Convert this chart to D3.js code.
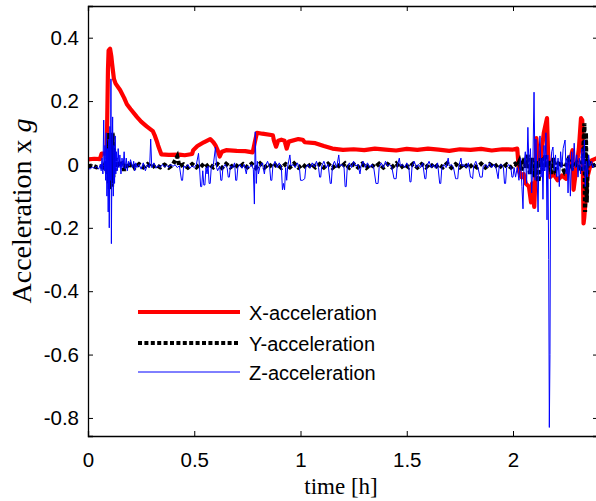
<!DOCTYPE html>
<html>
<head>
<meta charset="utf-8">
<script src="https://cdn.jsdelivr.net/npm/d3@7"></script>
<style>
  html, body { margin: 0; padding: 0; background: #fff; }
  svg { display: block; }
</style>
</head>
<body>
<svg id="chart" width="596" height="501"></svg>
<script>
// ---------------- DATA ----------------
const xTicks = [0, 0.5, 1, 1.5, 2];
const xTickLabels = ["0", "0.5", "1", "1.5", "2"];
const yTicks = [-0.8, -0.6, -0.4, -0.2, 0, 0.2, 0.4];
const yTickLabels = ["-0.8", "-0.6", "-0.4", "-0.2", "0", "0.2", "0.4"];
const seriesNames = ["X-acceleration", "Y-acceleration", "Z-acceleration"];

// [time (h), acceleration (g)]
const xAccel = [
  [0.000,0.016],[0.030,0.018],[0.056,0.017],[0.064,0.034],[0.088,0.035],[0.094,0.30],
  [0.097,0.36],[0.104,0.365],[0.110,0.34],[0.113,0.32],[0.122,0.27],[0.130,0.255],
  [0.151,0.235],[0.170,0.21],[0.183,0.19],[0.200,0.175],[0.230,0.15],[0.250,0.135],
  [0.276,0.12],[0.305,0.105],[0.315,0.09],[0.323,0.075],[0.330,0.06],[0.338,0.045],
  [0.345,0.032],[0.380,0.030],[0.430,0.031],[0.455,0.029],[0.490,0.033],[0.495,0.045],
  [0.515,0.058],[0.545,0.070],[0.575,0.080],[0.590,0.070],[0.600,0.060],[0.610,0.045],
  [0.620,0.025],[0.630,0.040],[0.650,0.045],[0.700,0.043],[0.740,0.042],[0.775,0.038],
  [0.785,0.070],[0.795,0.100],[0.820,0.097],[0.870,0.092],[0.875,0.075],[0.885,0.056],
  [0.895,0.075],[0.910,0.078],[0.925,0.075],[0.935,0.050],[0.945,0.072],[0.990,0.080],
  [1.010,0.078],[1.020,0.070],[1.070,0.067],[1.110,0.058],[1.150,0.050],[1.200,0.046],
  [1.250,0.048],[1.300,0.045],[1.350,0.050],[1.400,0.047],[1.450,0.044],[1.500,0.049],
  [1.550,0.046],[1.600,0.050],[1.650,0.047],[1.700,0.043],[1.750,0.048],[1.800,0.046],
  [1.850,0.049],[1.900,0.044],[1.950,0.048],[2.000,0.047],[2.020,0.050],[2.028,-0.020],
  [2.040,-0.040],[2.050,-0.030],[2.060,-0.060],[2.075,-0.070],[2.085,-0.120],[2.090,-0.060],
  [2.100,-0.134],[2.105,-0.050],[2.110,0.083],[2.120,0.000],[2.130,0.013],[2.145,0.100],
  [2.160,0.146],[2.165,0.035],[2.175,-0.040],[2.190,-0.030],[2.210,-0.050],[2.230,-0.035],
  [2.250,-0.045],[2.280,0.045],[2.285,-0.080],[2.300,0.000],[2.310,0.050],[2.320,0.146],
  [2.326,0.140],[2.332,-0.186],[2.335,-0.170],[2.350,-0.040],[2.370,0.013],[2.395,0.020]
];

const yAccel = [
  [0.000,-0.006],[0.020,-0.003],[0.040,-0.009],[0.060,-0.006],[0.075,-0.010],[0.085,0.010],
  [0.090,-0.030],[0.095,0.060],[0.098,-0.060],[0.100,0.100],[0.103,-0.080],[0.106,0.090],
  [0.108,-0.050],[0.111,0.040],[0.113,-0.070],[0.116,0.100],[0.119,-0.040],[0.122,0.050],
  [0.125,-0.020],[0.130,0.020],[0.135,-0.010],[0.140,0.010],[0.150,-0.008],[0.160,0.012],
  [0.170,-0.020],[0.180,0.005],[0.190,-0.012],[0.200,0.000],[0.210,0.004],[0.220,-0.010],
  [0.240,0.001],[0.260,-0.009],[0.280,0.001],[0.300,-0.010],[0.320,-0.001],[0.340,-0.009],
  [0.360,-0.001],[0.380,-0.010],[0.400,0.000],[0.420,0.025],[0.430,-0.006],[0.450,0.000],
  [0.470,-0.010],[0.490,0.001],[0.510,-0.009],[0.530,0.002],[0.550,-0.010],[0.570,0.001],
  [0.590,-0.009],[0.610,0.001],[0.630,-0.011],[0.650,0.002],[0.670,-0.009],[0.690,0.001],
  [0.710,-0.010],[0.730,0.001],[0.750,-0.009],[0.770,0.002],[0.790,-0.011],[0.810,0.003],
  [0.830,-0.010],[0.850,0.001],[0.870,-0.009],[0.890,0.002],[0.910,-0.011],[0.930,0.001],
  [0.950,-0.009],[0.970,0.003],[0.990,-0.010],[1.010,0.000],[1.030,-0.011],[1.050,0.002],
  [1.070,-0.009],[1.090,0.001],[1.110,-0.010],[1.130,0.002],[1.150,-0.011],[1.170,0.000],
  [1.190,-0.009],[1.210,0.003],[1.230,-0.010],[1.250,0.001],[1.270,-0.009],[1.290,0.002],
  [1.310,-0.011],[1.330,0.000],[1.350,-0.009],[1.370,0.002],[1.390,-0.010],[1.410,0.001],
  [1.430,-0.009],[1.450,0.003],[1.470,-0.011],[1.490,0.000],[1.510,-0.009],[1.530,0.002],
  [1.550,-0.010],[1.570,0.001],[1.590,-0.009],[1.610,0.002],[1.630,-0.011],[1.650,0.000],
  [1.670,-0.009],[1.690,0.003],[1.710,-0.010],[1.730,0.001],[1.750,-0.009],[1.770,0.002],
  [1.790,-0.011],[1.810,0.000],[1.830,-0.009],[1.850,0.002],[1.870,-0.010],[1.890,0.001],
  [1.910,-0.009],[1.930,0.002],[1.950,-0.011],[1.970,0.000],[1.990,-0.009],[2.010,0.002],
  [2.020,-0.005],[2.030,0.010],[2.040,-0.020],[2.050,0.020],[2.060,-0.010],[2.070,0.030],
  [2.080,-0.030],[2.090,0.020],[2.100,-0.040],[2.110,0.010],[2.120,-0.055],[2.130,0.020],
  [2.140,-0.020],[2.150,0.030],[2.160,-0.010],[2.170,0.010],[2.180,-0.030],[2.190,0.020],
  [2.200,-0.015],[2.220,0.010],[2.240,-0.020],[2.260,0.015],[2.280,-0.010],[2.300,0.005],
  [2.320,-0.020],[2.330,0.030],[2.336,0.130],[2.339,-0.150],[2.343,0.100],[2.347,-0.120],
  [2.351,0.010],[2.370,-0.005],[2.395,0.000]
];

const zAccel = [
  [0.000,-0.010],[0.010,-0.015],[0.020,-0.008],[0.030,-0.012],[0.040,-0.006],[0.050,-0.015],
  [0.058,0.000],[0.062,-0.020],[0.066,0.020],[0.070,-0.030],[0.074,0.140],[0.077,-0.020],
  [0.080,0.060],[0.083,-0.050],[0.086,0.100],[0.089,-0.100],[0.092,0.050],[0.095,-0.150],
  [0.098,0.080],[0.100,-0.200],[0.103,0.120],[0.106,-0.050],[0.108,0.270],[0.110,-0.250],
  [0.113,0.050],[0.116,0.150],[0.119,-0.100],[0.122,0.060],[0.125,-0.060],[0.128,0.090],
  [0.131,-0.030],[0.134,0.040],[0.138,-0.020],[0.142,0.050],[0.146,-0.010],[0.150,0.030],
  [0.155,-0.030],[0.160,0.020],[0.165,-0.010],[0.170,0.040],[0.175,-0.015],[0.180,0.020],
  [0.185,-0.020],[0.190,0.010],[0.195,-0.005],[0.200,0.015],[0.210,-0.010],[0.215,0.010],
  [0.220,-0.020],[0.225,0.005],[0.230,-0.010],[0.240,0.000],[0.250,-0.015],[0.260,0.005],
  [0.270,-0.020],[0.280,0.000],[0.290,-0.010],[0.295,0.080],[0.300,-0.010],[0.310,0.005],
  [0.320,-0.012],[0.330,-0.003],[0.340,-0.010],[0.350,0.000],[0.360,-0.008],[0.370,-0.002],
  [0.380,-0.010],[0.390,0.000],[0.400,-0.006],[0.410,-0.001],[0.420,-0.010],[0.430,-0.004],
  [0.440,-0.050],[0.445,-0.050],[0.450,-0.005],[0.460,-0.010],[0.470,0.000],[0.480,-0.012],
  [0.490,-0.004],[0.500,-0.010],[0.510,0.000],[0.520,0.035],[0.525,-0.010],[0.530,-0.070],
  [0.535,-0.070],[0.540,-0.020],[0.545,-0.065],[0.550,-0.065],[0.555,-0.010],[0.560,-0.030],
  [0.565,-0.005],[0.570,-0.060],[0.575,-0.060],[0.580,-0.010],[0.590,0.000],[0.600,0.055],
  [0.605,-0.010],[0.610,-0.020],[0.620,-0.005],[0.625,-0.050],[0.630,-0.050],[0.635,-0.010],
  [0.645,0.000],[0.655,-0.012],[0.660,-0.040],[0.665,-0.040],[0.670,-0.005],[0.680,-0.010],
  [0.690,0.005],[0.695,-0.050],[0.700,-0.050],[0.705,-0.010],[0.715,0.000],[0.725,-0.012],
  [0.735,0.000],[0.745,-0.030],[0.750,-0.005],[0.760,-0.010],[0.770,0.000],[0.778,-0.015],
  [0.783,-0.125],[0.787,0.103],[0.792,-0.060],[0.797,0.010],[0.802,-0.030],[0.810,-0.005],
  [0.820,0.005],[0.830,-0.030],[0.835,-0.005],[0.845,0.010],[0.855,-0.010],[0.860,-0.050],
  [0.865,-0.050],[0.870,-0.005],[0.880,0.010],[0.890,-0.010],[0.900,0.005],[0.910,-0.010],
  [0.915,-0.080],[0.920,-0.060],[0.925,-0.080],[0.930,-0.010],[0.935,-0.050],[0.940,-0.005],
  [0.950,0.030],[0.955,-0.005],[0.965,0.000],[0.975,-0.010],[0.985,0.005],[0.995,-0.010],
  [1.000,-0.050],[1.010,-0.050],[1.020,-0.045],[1.025,-0.010],[1.035,0.000],[1.045,-0.012],
  [1.055,0.005],[1.065,-0.008],[1.075,0.010],[1.085,-0.010],[1.090,-0.040],[1.095,-0.040],
  [1.100,-0.005],[1.110,0.010],[1.120,-0.010],[1.130,0.000],[1.140,-0.060],[1.145,-0.060],
  [1.150,-0.005],[1.160,0.010],[1.170,-0.010],[1.180,0.030],[1.185,-0.005],[1.195,0.000],
  [1.205,-0.010],[1.210,-0.070],[1.215,-0.070],[1.220,-0.010],[1.230,0.005],[1.240,-0.010],
  [1.250,0.010],[1.260,-0.005],[1.270,0.000],[1.280,-0.030],[1.285,-0.005],[1.295,0.010],
  [1.305,-0.010],[1.315,0.005],[1.325,-0.010],[1.335,0.000],[1.345,-0.012],[1.355,-0.060],
  [1.360,-0.060],[1.365,-0.060],[1.370,-0.010],[1.380,0.005],[1.390,-0.010],[1.400,0.010],
  [1.410,-0.005],[1.420,0.000],[1.430,-0.010],[1.440,-0.045],[1.450,-0.045],[1.455,-0.005],
  [1.465,0.020],[1.470,-0.005],[1.480,0.000],[1.490,-0.010],[1.500,0.005],[1.510,-0.010],
  [1.515,-0.055],[1.520,-0.055],[1.525,-0.005],[1.535,0.010],[1.545,-0.010],[1.555,0.000],
  [1.565,-0.010],[1.575,0.005],[1.585,-0.045],[1.590,-0.045],[1.595,-0.005],[1.605,0.010],
  [1.615,-0.010],[1.625,0.000],[1.635,-0.012],[1.645,0.005],[1.655,-0.060],[1.660,-0.060],
  [1.665,-0.010],[1.675,0.000],[1.685,-0.010],[1.695,0.020],[1.700,-0.005],[1.710,0.000],
  [1.720,-0.010],[1.730,-0.045],[1.735,-0.045],[1.740,-0.045],[1.745,-0.005],[1.755,0.020],
  [1.760,-0.005],[1.770,0.000],[1.780,-0.010],[1.790,0.005],[1.800,-0.040],[1.805,-0.040],
  [1.810,-0.045],[1.815,-0.005],[1.825,0.010],[1.835,-0.010],[1.845,-0.040],[1.850,-0.040],
  [1.855,-0.040],[1.860,-0.005],[1.870,0.000],[1.880,-0.010],[1.890,0.005],[1.900,-0.010],
  [1.910,0.000],[1.920,-0.010],[1.930,-0.045],[1.935,-0.005],[1.945,0.000],[1.955,-0.010],
  [1.960,-0.060],[1.965,-0.060],[1.970,-0.010],[1.980,0.000],[1.990,-0.010],[1.995,-0.040],
  [2.000,-0.040],[2.005,-0.010],[2.012,-0.040],[2.020,-0.010],[2.028,-0.050],[2.035,0.020],
  [2.042,-0.070],[2.047,-0.140],[2.052,0.000],[2.058,0.040],[2.064,-0.060],[2.070,0.117],
  [2.076,-0.030],[2.082,0.050],[2.088,-0.090],[2.094,0.020],[2.099,0.228],[2.104,-0.050],
  [2.108,0.080],[2.113,-0.030],[2.118,-0.150],[2.122,0.030],[2.127,0.090],[2.132,-0.040],
  [2.137,0.020],[2.141,-0.110],[2.146,0.060],[2.150,-0.020],[2.155,0.100],[2.160,-0.175],
  [2.164,0.030],[2.168,-0.300],[2.171,-0.830],[2.174,-0.600],[2.177,-0.020],[2.182,0.040],
  [2.188,0.055],[2.194,-0.020],[2.200,0.030],[2.206,-0.040],[2.212,0.020],[2.218,-0.070],
  [2.224,0.040],[2.230,-0.010],[2.236,0.050],[2.245,0.077],[2.250,-0.030],[2.255,0.020],
  [2.259,-0.090],[2.264,0.030],[2.270,-0.100],[2.276,0.040],[2.282,-0.020],[2.288,0.067],
  [2.294,-0.010],[2.300,0.030],[2.306,-0.040],[2.312,0.020],[2.318,-0.030],[2.324,0.050],
  [2.330,-0.020],[2.336,0.077],[2.340,-0.070],[2.345,0.010],[2.350,-0.040],[2.356,0.030],
  [2.362,-0.005],[2.370,0.010],[2.376,-0.010],[2.385,0.000],[2.395,-0.005]
];

// ---------------- CHART ----------------
const plot = { left: 88, top: 6, right: 598, bottom: 436 };
const svg = d3.select("#chart");

const x = d3.scaleLinear().domain([0, 2.4]).range([plot.left, plot.right]);
const y = d3.scaleLinear().domain([-0.857, 0.5]).range([plot.bottom, plot.top]);

svg.append("defs").append("clipPath").attr("id", "clip")
  .append("rect")
  .attr("x", plot.left).attr("y", plot.top)
  .attr("width", plot.right - plot.left).attr("height", plot.bottom - plot.top);

const line = d3.line().x(d => x(d[0])).y(d => y(d[1]));
const g = svg.append("g").attr("clip-path", "url(#clip)");

g.append("path").datum(xAccel)
  .attr("d", line).attr("fill", "none")
  .attr("stroke", "#ff0000").attr("stroke-width", 4.2).attr("stroke-linejoin", "round");

g.append("path").datum(yAccel)
  .attr("d", line).attr("fill", "none")
  .attr("stroke", "#000").attr("stroke-width", 4.2)
  .attr("stroke-dasharray", "4,2.4");

g.append("path").datum(zAccel)
  .attr("d", line).attr("fill", "none")
  .attr("stroke", "#0000ff").attr("stroke-width", 1);

// Axes (MATLAB style: inward ticks, box)
const fmtX = d => xTickLabels[xTicks.indexOf(d)];
const fmtY = d => yTickLabels[yTicks.indexOf(d)];

const axB = svg.append("g").attr("transform", `translate(0,${plot.bottom})`)
  .call(d3.axisBottom(x).tickValues(xTicks).tickFormat(fmtX).tickSize(-5).tickPadding(16));
const axT = svg.append("g").attr("transform", `translate(0,${plot.top})`)
  .call(d3.axisTop(x).tickValues(xTicks).tickFormat("").tickSize(-5));
const axL = svg.append("g").attr("transform", `translate(${plot.left},0)`)
  .call(d3.axisLeft(y).tickValues(yTicks).tickFormat(fmtY).tickSize(-5).tickPadding(9));
const axR = svg.append("g").attr("transform", `translate(${plot.right},0)`)
  .call(d3.axisRight(y).tickValues(yTicks).tickFormat("").tickSize(-5));

[axB, axT, axL, axR].forEach(a => {
  a.selectAll(".domain").attr("stroke", "#000").attr("stroke-width", 1.3);
  a.selectAll(".tick line").attr("stroke", "#000").attr("stroke-width", 1);
  a.selectAll("text")
    .attr("font-family", "'Liberation Sans', Arial, sans-serif")
    .attr("font-size", 20.5).attr("fill", "#000");
});

// Axis titles
svg.append("text")
  .attr("x", 341).attr("y", 494)
  .attr("text-anchor", "middle")
  .attr("font-family", "'Liberation Serif', 'Times New Roman', serif")
  .attr("font-size", 23)
  .text("time [h]");

const yt = svg.append("text")
  .attr("transform", "translate(31,211) rotate(-90)")
  .attr("text-anchor", "middle")
  .attr("font-family", "'Liberation Serif', 'Times New Roman', serif")
  .attr("font-size", 28);
yt.append("tspan").text("Acceleration x ");
yt.append("tspan").attr("font-style", "italic").text("g");

// Legend
const legend = [
  { name: seriesNames[0], y: 312, stroke: "#ff0000", w: 4.2, dash: null },
  { name: seriesNames[1], y: 343, stroke: "#000", w: 4, dash: "4,2.4" },
  { name: seriesNames[2], y: 372, stroke: "#0000ff", w: 1, dash: null }
];
const lg = svg.append("g");
legend.forEach(l => {
  lg.append("line")
    .attr("x1", 138).attr("x2", 240).attr("y1", l.y).attr("y2", l.y)
    .attr("stroke", l.stroke).attr("stroke-width", l.w)
    .attr("stroke-dasharray", l.dash);
  lg.append("text")
    .attr("x", 249).attr("y", l.y + 8)
    .attr("font-family", "'Liberation Sans', Arial, sans-serif")
    .attr("font-size", 20)
    .text(l.name);
});
</script>
</body>
</html>
